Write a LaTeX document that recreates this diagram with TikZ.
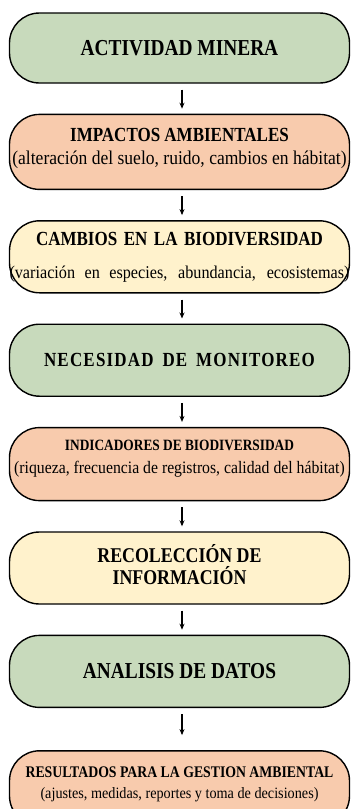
\documentclass[tikz,border=0pt]{standalone}
\usepackage{fontspec}
\setmainfont{Liberation Serif}
\newfontfamily\titlefam[FakeStretch=0.85]{Liberation Serif}
\newfontfamily\spacedfam[FakeStretch=0.85, LetterSpace=6]{Liberation Serif}
\newfontfamily\notefam[FakeStretch=0.9]{Liberation Serif}
\usetikzlibrary{positioning, arrows.meta}
\definecolor{boxgreen}{RGB}{200,218,188}
\definecolor{boxsalmon}{RGB}{248,203,173}
\definecolor{boxyellow}{RGB}{255,242,204}
\tikzset{>=Stealth, node distance = 30pt}

\begin{document}
\begin{tikzpicture}[box/.style ={rectangle, rounded corners=30pt, draw=black, line width=1.4pt, minimum width=340pt, inner sep=0pt, align=center},
greenbox/.style={box, fill=boxgreen}, salmonbox/.style={box, fill=boxsalmon}, yellowbox/.style={box, fill=boxyellow},
flow/.style={-{Stealth[length=6pt,width=5pt]}, line width=1.1pt, shorten <=6pt, shorten >=5pt}]
    \useasboundingbox (0,0) rectangle (352pt,-809pt);

    \node[greenbox, minimum height=70pt] (mining) at (179.5pt,-48pt) {\titlefam\bfseries\fontsize{22.8}{26}\selectfont ACTIVIDAD MINERA};

    \node[salmonbox, minimum height=75pt, below=of mining, font=\fontsize{19.5}{23}\selectfont, text depth=12pt] (impacts)
    {\titlefam\bfseries\fontsize{20}{23}\selectfont IMPACTOS AMBIENTALES\\
     \notefam\fontsize{19.5}{23}\selectfont (alteración del suelo, ruido, cambios en hábitat)};

    \node[yellowbox, minimum height=72pt, below=of impacts, font=\fontsize{18}{33}\selectfont] (changes)
    {\titlefam\bfseries\fontsize{20}{33}\selectfont \makebox[287pt][s]{CAMBIOS EN LA BIODIVERSIDAD}\\
     \notefam\fontsize{18}{33}\selectfont \makebox[340pt][s]{(variación en especies, abundancia, ecosistemas)}};

    \node[greenbox, minimum height=72pt, below=of changes] (monitoring)
    {\spacedfam\bfseries\fontsize{20}{24}\selectfont \makebox[271pt][s]{NECESIDAD DE MONITOREO}};

    \node[salmonbox, minimum height=73pt, below=of monitoring, font=\fontsize{17.5}{23}\selectfont, text depth=14pt] (indicators)
    {\titlefam\bfseries\fontsize{15.7}{23}\selectfont INDICADORES DE BIODIVERSIDAD\\
     \notefam\fontsize{17.5}{23}\selectfont (riqueza, frecuencia de registros, calidad del hábitat)};

    \node[yellowbox, minimum height=72pt, below=of indicators, font=\fontsize{21}{22}\selectfont, text depth=8pt] (collection)
    {\titlefam\bfseries\fontsize{21}{22}\selectfont RECOLECCIÓN DE\\
     \titlefam\bfseries\fontsize{21}{22}\selectfont INFORMACIÓN};

    \node[greenbox, minimum height=72pt, below=of collection] (analysis)
    {\titlefam\bfseries\fontsize{22.8}{26}\selectfont ANALISIS DE DATOS};

    \node[salmonbox, minimum height=75pt, below=42pt of analysis, font=\fontsize{15.8}{21}\selectfont, text depth=11.5pt] (results)
    {\titlefam\bfseries\fontsize{16.2}{21}\selectfont RESULTADOS PARA LA GESTION AMBIENTAL\\
     \notefam\fontsize{15.8}{21}\selectfont (ajustes, medidas, reportes y toma de decisiones)};

    \draw[flow] ([xshift=2.5pt]mining.south) -- ([xshift=2.5pt]impacts.north);
    \draw[flow] ([xshift=2.5pt]impacts.south) -- ([xshift=2.5pt]changes.north);
    \draw[flow] ([xshift=2.5pt]changes.south) -- ([xshift=2.5pt]monitoring.north);
    \draw[flow] ([xshift=2.5pt]monitoring.south) -- ([xshift=2.5pt]indicators.north);
    \draw[flow] ([xshift=2.5pt]indicators.south) -- ([xshift=2.5pt]collection.north);
    \draw[flow] ([xshift=2.5pt]collection.south) -- ([xshift=2.5pt]analysis.north);
    \draw[flow, shorten >=15pt] ([xshift=2.5pt]analysis.south) -- ([xshift=2.5pt]results.north);
\end{tikzpicture}
\end{document}
